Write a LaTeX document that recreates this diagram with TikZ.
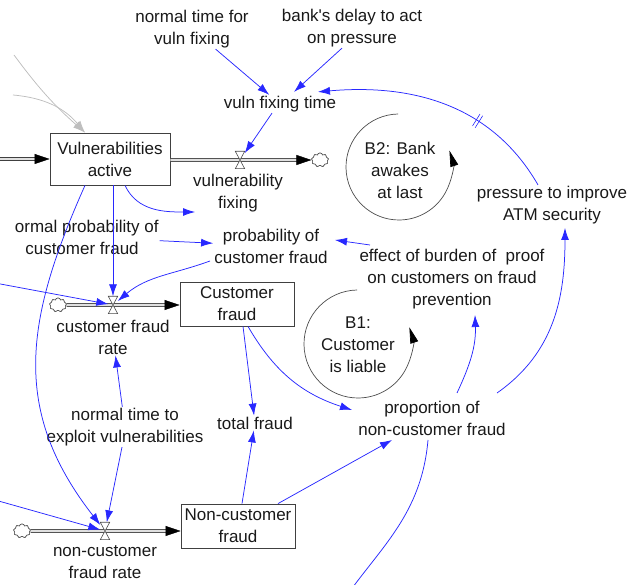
\documentclass[tikz,border=0pt]{standalone}
\usepackage{fontspec}
\setmainfont{Liberation Sans}
\usetikzlibrary{arrows.meta,shapes.symbols,decorations.markings}
\definecolor{linkblue}{RGB}{40,40,255}
\definecolor{greyln}{RGB}{190,190,190}
\begin{document}
\begin{tikzpicture}[x=1pt,y=1pt,
  lbl/.style={font=\fontsize{17}{22}\selectfont, align=center, inner sep=1pt, text=black!90},
  stock/.style={lbl, draw=black!75, line width=0.8pt, fill=white, inner sep=0pt},
  conn/.style={draw=linkblue, line width=0.75pt, -{Latex[length=12pt,width=8pt]}},
  greyconn/.style={draw=greyln, line width=0.75pt, -{Latex[length=12pt,width=8pt]}},
  pipe/.style={draw=black!75, line width=0.7pt, double=black!12, double distance=2.4pt},
  pipetip/.style={line width=0.4pt, black, -{Triangle[length=15pt,width=10pt]}},
  valve/.style={minimum width=9pt, minimum height=17pt, inner sep=0pt},
  valvedraw/.style={fill=white, draw=black!70, line width=0.6pt},
  cloudn/.style={cloud, cloud puffs=9, draw=black!70, line width=0.6pt, fill=white, minimum width=17pt, minimum height=14pt, inner sep=0pt},
  loopc/.style={draw=black!70, line width=0.7pt, -{Triangle[length=16pt,width=8pt,fill=black,color=black]}},
  hash/.style={postaction={decorate, decoration={markings, mark=at position 0.35 with {\draw[arrows=-, linkblue, line width=0.6pt] (-1.6pt,-7pt) -- (-1.6pt,7pt) (1.6pt,-7pt) -- (1.6pt,7pt);}}}}
]
\useasboundingbox (0,0) rectangle (633,-585);

% ---------- stocks ----------
\node[stock, minimum width=120pt, minimum height=52pt] (VA) at (110,-159) {Vulnerabilities\\active};
\node[stock, minimum width=114pt, minimum height=44pt] (CF) at (237,-304) {Customer\\fraud};
\node[stock, minimum width=114pt, minimum height=44pt] (NCF) at (238,-526) {Non-customer\\fraud};

% ---------- valves and clouds ----------
\node[valve] (vf) at (240,-160) {};
\node[valve] (cfr) at (113,-305) {};
\node[valve] (ncfr) at (105,-531) {};
\node[cloudn] (cl1) at (320,-160) {};
\node[cloudn] (cl2) at (58,-305) {};
\node[cloudn] (cl3) at (22,-531) {};
\coordinate (inVA) at (-5,-159);

% ---------- pipes ----------
\draw[pipe] (inVA) -- ([xshift=-12pt]VA.west);
\draw[pipetip] ([xshift=-14pt]VA.west) -- (VA.west);
\draw[pipe] (VA.east |- vf) -- ([xshift=-12pt]cl1.west);
\draw[pipetip] ([xshift=-14pt]cl1.west) -- (cl1.west);
\draw[pipe] (cl2.east) -- ([xshift=-12pt]CF.west |- cl2);
\draw[pipetip] ([xshift=-14pt]CF.west |- cl2) -- (CF.west |- cl2);
\draw[pipe] (cl3.east) -- ([xshift=-12pt]NCF.west |- cl3);
\draw[pipetip] ([xshift=-14pt]NCF.west |- cl3) -- (NCF.west |- cl3);
\node[cloudn] at (cl1) {};
\node[cloudn] at (cl2) {};
\node[cloudn] at (cl3) {};
\foreach \v in {vf,cfr,ncfr}
  \draw[valvedraw] (\v.north west) -- (\v.north east) -- (\v.south west) -- (\v.south east) -- cycle;

% ---------- variables ----------
\node[lbl] (nt) at (192,-29) {normal time for\\vuln fixing};
\node[lbl] (bd) at (352,-28) {bank\textquotesingle s delay to act\\on pressure};
\node[lbl] (vft) at (280,-104) {vuln fixing time};
\node[lbl] (vfl) at (238,-193) {vulnerability\\fixing};
\node[lbl] (b2) at (400,-170) {B2: Bank\\awakes\\at last};
\node[lbl] (press) at (552,-205) {pressure to improve\\ATM security};
\node[lbl] (npcf) at (82,-237) {\phantom{n}ormal probability of\\customer fraud};
\node[lbl] (pcf) at (271,-246) {probability of\\customer fraud};
\node[lbl] (ebp) at (452,-279) {effect of burden of\ \ proof\\on customers on fraud\\prevention};
\node[lbl] (cfrl) at (113,-337) {customer fraud\\rate};
\node[lbl] (b1) at (358,-345) {B1:\\Customer\\is liable};
\node[lbl] (nte) at (125,-427) {normal time to\\exploit vulnerabilities};
\node[lbl] (tf) at (255,-423) {total fraud};
\node[lbl] (pncf) at (432,-418) {proportion of\\non-customer fraud};
\node[lbl] (ncfrl) at (105,-562) {non-customer\\fraud rate};

% ---------- loop markers ----------
\coordinate (b2c) at (399,-167);
\coordinate (b1c) at (358,-344);
\draw[loopc] ([shift={(91:53)}]b2c) arc[start angle=91, end angle=378, radius=53];
\draw[loopc] ([shift={(91:54)}]b1c) arc[start angle=91, end angle=378, radius=54];

% ---------- grey links ----------
\coordinate (g1) at (14,-55);
\coordinate (g2) at (13,-95);
\draw[greyconn] (g1) to[bend right=6] ([xshift=-25pt]VA.north);
\draw[greyconn] (g2) to[out=-5, in=130] ([xshift=-25pt]VA.north);

% ---------- blue links ----------
\coordinate (offA) at (-5,-283);
\coordinate (offB) at (338,-608);
\coordinate (offC) at (-5,-500);
\draw[conn] (nt) -- (vft);
\draw[conn] ([xshift=-10pt]bd.south) -- ([shift={(14,3)}]vft.north);
\draw[conn] ([xshift=-8pt]vft.south) -- (vf);
\draw[conn, hash] ([xshift=-14pt]press.north) to[out=120, in=5] ([shift={(38,3)}]vft.north);
\draw[conn] ([xshift=15pt]VA.south) to[out=-65, in=180] ([shift={(-43,-19)}]vfl.center);
\draw[conn] (VA.south -| cfr) -- (cfr);
\draw[conn] ([xshift=-25pt]VA.south) to[out=-114, in=128, looseness=1.1] (ncfr);
\draw[conn] (npcf) -- (pcf);
\draw[conn] ([shift={(-61,-15)}]pcf.center) to[out=200, in=40] (cfr);
\draw[conn] (offA) -- (cfr);
\draw[conn] ([shift={(-82,34)}]ebp.center) -- ([shift={(64,6)}]pcf.center);
\draw[conn] ([xshift=6pt]CF.south) -- (tf);
\draw[conn] ([xshift=4pt]NCF.north) -- (tf);
\draw[conn] ([xshift=11pt]CF.south) to[out=-60, in=162] ([shift={(-80,8)}]pncf.center);
\draw[conn] ([xshift=40pt]NCF.north) -- ([shift={(-40,-22)}]pncf.center);
\draw[conn] ([shift={(25,25)}]pncf.center) to[out=65, in=-88] ([shift={(23,-36)}]ebp.center);
\draw[conn] ([shift={(65,25)}]pncf.center) to[out=35, in=-90] ([shift={(13,-23)}]press.center);
\draw[conn] ([shift={(-4,-22)}]pncf.center) to[out=-95, in=55] (offB);
\draw[conn] (offC) -- (ncfr);
\draw[conn] ([xshift=-3pt]nte.south) -- (ncfr);
\draw[conn] (nte) -- (cfrl);
\end{tikzpicture}
\end{document}
